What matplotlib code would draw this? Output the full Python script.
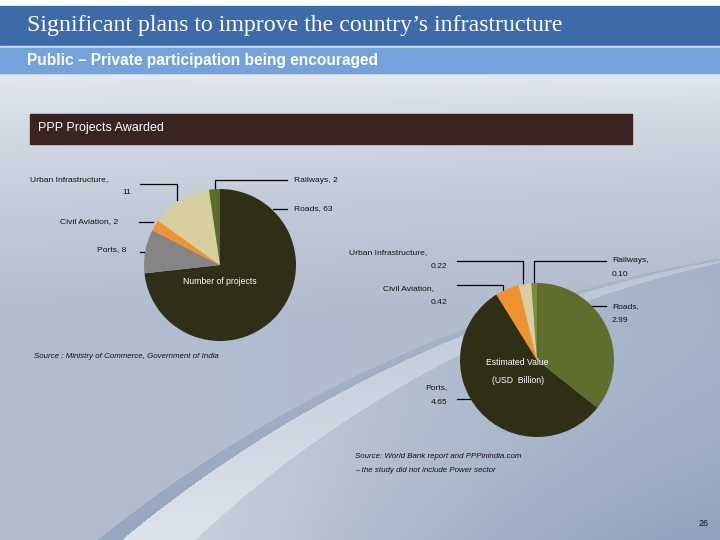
import numpy as np
import matplotlib
matplotlib.use("Agg")
from matplotlib import pyplot as plt
from matplotlib.patches import Rectangle

# data
sectors_projects = ["Roads", "Ports", "Civil Aviation", "Urban Infrastructure", "Railways"]
num_projects = [63, 8, 2, 11, 2]
sectors_value = ["Roads", "Ports", "Civil Aviation", "Urban Infrastructure", "Railways"]
est_value = [2.99, 4.65, 0.42, 0.22, 0.10]

colors_projects = ["#2f2f17", "#858585", "#f0932e", "#d8cf9e", "#5c6d2c"]
colors_value = ["#5f6e2c", "#2f2f16", "#f0932e", "#d8cf9e", "#7a8c3a"]

W, H = 720, 540
fig = plt.figure(figsize=(7.2, 5.4), dpi=100)

# background slide
bg = fig.add_axes([0, 0, 1, 1])
bg.set_xlim(0, W)
bg.set_ylim(H, 0)
bg.axis("off")

yy, xx = np.mgrid[0:H, 0:W].astype(float)
def hexrgb(h):
    h = h.lstrip("#")
    return np.array([int(h[i:i + 2], 16) / 255 for i in (0, 2, 4)])

def mix(a, b, k):
    return a * (1 - k) + b * k

t = (np.clip((yy - 72) / 240, 0, 1) ** 0.75)[..., None]
s = (xx / W)[..., None]
img = mix(hexrgb("#e5e9ef"), hexrgb("#b2bdd0"), t)
img = mix(img, hexrgb("#a9b6ca"), 0.35 * s * t)

# swoosh: edge of a big circle through the slide's lower right
cx, cy, R = 952.0, 1600.0, 1362.0
d = np.hypot(xx - cx, yy - cy)
f = np.clip((yy - 260) / 280, 0, 1)
w_strip = 2 + 13 * f
w_band = 2 + 42 * f
depth = R - d
strip = (depth >= 0) & (depth < w_strip)
band = (depth >= w_strip) & (depth < w_strip + w_band)
inner = depth >= w_strip + w_band
fk = f[..., None]
edge_col = mix(hexrgb("#a3b2c8"), hexrgb("#c7d0dd"), fk)
deep = np.clip((depth - w_strip - w_band) / 260, 0, 1)[..., None]
inner_col = mix(edge_col, hexrgb("#8699b7"), deep)
band_col = mix(hexrgb("#b9c5d5"), hexrgb("#dde3ec"), fk)
strip_col = mix(hexrgb("#a9b6ca"), hexrgb("#96a7c0"), fk)
img = np.where(inner[..., None], inner_col, img)
img = np.where(band[..., None], band_col, img)
img = np.where(strip[..., None], strip_col, img)
img[:6] = 1.0
bg.imshow(np.clip(img, 0, 1), extent=(0, W, H, 0), aspect="auto", zorder=0)

# title bars
bg.add_patch(Rectangle((0, 6), W, 40, color="#3d6aa9", zorder=1))
bg.add_patch(Rectangle((0, 46), W, 2, color="#c9d9ee", zorder=1))
bg.add_patch(Rectangle((0, 48), W, 25, color="#74a2dc", zorder=1))
bg.text(27, 26, "Significant plans to improve the country\u2019s infrastructure",
        family="Liberation Serif", fontsize=17.2, color="white", va="center", zorder=2)
bg.text(27, 60, "Public \u2013 Private participation being encouraged",
        family="Liberation Sans", fontsize=11.2, fontweight="bold", color="white",
        va="center", zorder=2)

bg.add_patch(Rectangle((30, 114), 602, 30, color="#3b2321", zorder=1))
bg.text(38, 128, "PPP Projects Awarded", family="Liberation Sans", fontsize=9,
        color="white", va="center", zorder=2)

lab = dict(family="Liberation Sans", fontsize=6.1, color="#111111", va="center", zorder=3)
ln = dict(color="black", lw=0.9, zorder=3)

# pie 1 labels
bg.text(30, 180, "Urban Infrastructure,", ha="left", **lab)
bg.text(131, 193, "11", ha="right", **lab)
bg.plot([140, 177, 177], [184, 184, 200], **ln)
bg.text(294, 181, "Railways, 2", ha="left", **lab)
bg.plot([287, 215, 215], [180, 180, 189], **ln)
bg.text(294, 209, "Roads, 63", ha="left", **lab)
bg.plot([273, 287], [209, 209], **ln)
bg.text(118, 222, "Civil Aviation, 2", ha="right", **lab)
bg.plot([139, 153], [222, 222], **ln)
bg.text(126, 250, "Ports, 8", ha="right", **lab)
bg.plot([140, 145], [252, 252], **ln)

# pie 2 labels
bg.text(349, 253, "Urban Infrastructure,", ha="left", **lab)
bg.text(447, 267, "0.22", ha="right", **lab)
bg.plot([457, 523, 523], [261, 261, 284], **ln)
bg.text(612, 260, "Railways,", ha="left", **lab)
bg.text(612, 274, "0.10", ha="left", **lab)
bg.plot([606, 534, 534], [261, 261, 284], **ln)
bg.text(383, 289, "Civil Aviation,", ha="left", **lab)
bg.text(447, 303, "0.42", ha="right", **lab)
bg.plot([457, 503, 503], [285, 285, 291], **ln)
bg.text(612, 307, "Roads,", ha="left", **lab)
bg.text(612, 320, "2.99", ha="left", **lab)
bg.plot([590, 606], [306, 306], **ln)
bg.text(447, 388, "Ports,", ha="right", **lab)
bg.text(447, 403, "4.65", ha="right", **lab)
bg.plot([457, 470], [399, 399], **ln)

src = dict(family="Liberation Sans", fontsize=5.7, style="italic", color="#111111",
           va="center", zorder=3)
bg.text(34, 357, "Source : Ministry of Commerce, Government of India", **src)
bg.text(355, 456, "Source: World Bank report and PPPinindia.com", **src)
bg.text(355, 470, "\u2013 the study did not include Power sector", **src)
bg.text(709, 524, "26", family="Liberation Sans", fontsize=6.5, color="#111111",
        ha="right", va="center", zorder=3)

def pie_axes(px, py, r):
    a = fig.add_axes([(px - r) / W, (H - py - r) / H, 2 * r / W, 2 * r / H])
    a.axis("off")
    return a

ax1 = pie_axes(220, 265, 76)
ax1.pie(num_projects, colors=colors_projects, startangle=90, counterclock=False,
        radius=1, wedgeprops=dict(linewidth=0))
ax1.set_xlim(-1, 1)
ax1.set_ylim(-1, 1)
ax1.text(0, -0.22, "Number of projects", family="Liberation Sans", fontsize=6.2,
         color="white", ha="center", va="center")

ax2 = pie_axes(537, 360, 77)
ax2.pie(est_value, colors=colors_value, startangle=90, counterclock=False,
        radius=1, wedgeprops=dict(linewidth=0))
ax2.set_xlim(-1, 1)
ax2.set_ylim(-1, 1)
ax2.text(-0.26, -0.03, "Estimated Value", family="Liberation Sans", fontsize=6.2,
         color="white", ha="center", va="center")
ax2.text(-0.25, -0.26, "(USD  Billion)", family="Liberation Sans", fontsize=6.2,
         color="white", ha="center", va="center")

fig.savefig("out.png", dpi=100)
